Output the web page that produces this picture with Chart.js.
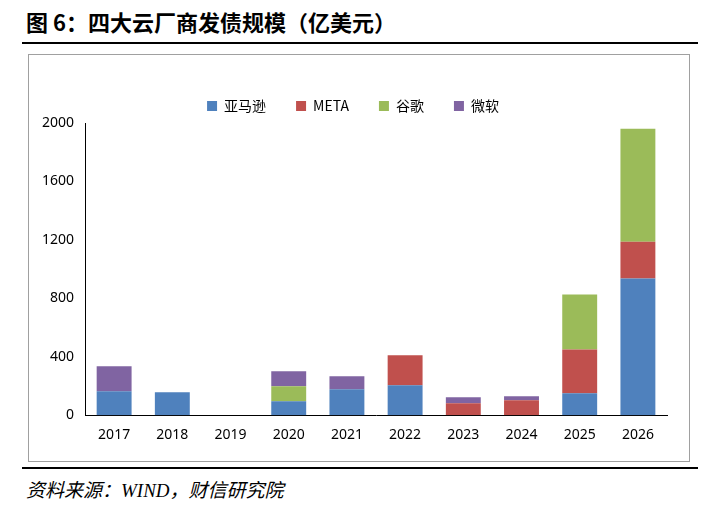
<!DOCTYPE html>
<html><head><meta charset="utf-8">
<script src="https://cdn.jsdelivr.net/npm/chart.js@4"></script>
<style>
body{margin:0;width:720px;height:513px;background:#fff;font-family:"Noto Sans CJK SC","Liberation Serif",serif;position:relative}
#title{position:absolute;left:26px;top:5px;font-size:22px;font-weight:bold;color:#000}
#l1{position:absolute;left:22px;top:42px;width:676px;border-top:2px solid #000}
#box{position:absolute;left:28px;top:54px;width:660px;height:406px;border:1px solid #a0a0a0}
#l2{position:absolute;left:22px;top:467px;width:676px;border-top:2px solid #000}
#src{position:absolute;left:26px;top:475px;font-size:19px;font-style:italic;font-family:"Liberation Serif","Noto Sans CJK SC",serif}
</style></head><body>
<div id="title">图 6：四大云厂商发债规模（亿美元）</div>
<div id="l1"></div>
<div id="box"><canvas id="chart" width="660" height="406"></canvas></div>
<div id="l2"></div>
<div id="src">资料来源：WIND，财信研究院</div>
<script>
//years on the x axis
let years = ['2017','2018','2019','2020','2021','2022','2023','2024','2025','2026']
//issuance per company, 亿美元
let amazon = [164, 157, 0, 96, 178, 205, 0, 0, 150, 936]
let meta = [0, 0, 0, 0, 0, 205, 82, 102, 300, 252]
let google = [0, 0, 0, 102, 0, 0, 0, 0, 376, 772]
let microsoft = [171, 0, 0, 102, 88, 0, 41, 28, 0, 0]
let yTicks = [0, 400, 800, 1200, 1600, 2000]

let ctx = document.getElementById('chart').getContext('2d')
let ds = function(label, data, color) {
    return {label: label, data: data, backgroundColor: color, barPercentage: 0.6, categoryPercentage: 1}
}
new Chart(ctx, {
    type: 'bar',
    data: {
        labels: years,
        datasets: [
            ds('亚马逊', amazon, '#4F81BD'),
            ds('META', meta, '#C0504D'),
            ds('谷歌', google, '#9BBB59'),
            ds('微软', microsoft, '#8064A2')
        ]
    },
    options: {
        responsive: false,
        animation: false,
        layout: {padding: {left: 10, right: 22, top: 14, bottom: 15}},
        plugins: {
            legend: {labels: {boxWidth: 10, boxHeight: 10, font: {size: 14, family: 'Noto Sans CJK SC'}, color: '#000', padding: 30}},
            tooltip: {enabled: false}
        },
        scales: {
            x: {stacked: true, grid: {display: false}, border: {color: '#000'},
                ticks: {color: '#000', font: {size: 14, family: 'Noto Sans'}}},
            y: {stacked: true, min: 0, max: 2000, grid: {display: false}, border: {color: '#000'},
                afterBuildTicks: function(a) { a.ticks = yTicks.map(v => ({value: v})) },
                ticks: {color: '#000', font: {size: 14, family: 'Noto Sans'}, callback: v => String(v)}}
        }
    }
})
</script>
</body></html>
